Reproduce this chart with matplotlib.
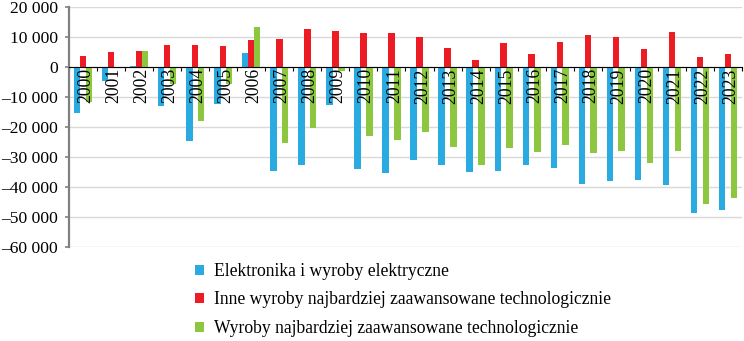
import numpy as np
import matplotlib
matplotlib.use("Agg")
import matplotlib.pyplot as plt
from matplotlib.patches import Patch
from matplotlib.ticker import FuncFormatter

# Saldo handlu wyrobami wysokiej techniki (mln)
years = [str(y) for y in range(2000, 2024)]
elektronika = [-15300, -4800, 300, -13000, -24800, -12300, 4700, -34600,
               -32800, -12800, -34000, -35300, -31200, -32800, -35000, -34700,
               -32600, -33900, -39000, -38100, -37800, -39300, -48900, -47600]
inne = [3700, 4800, 5300, 7300, 7100, 6800, 8800, 9300,
        12400, 11800, 11300, 11100, 9900, 6100, 2100, 8000,
        4300, 8100, 10700, 9900, 5900, 11600, 3200, 4100]
wyroby = [-11900, -400, 5300, -5900, -18100, -5800, 13200, -25300,
          -20400, -1300, -23000, -24300, -21600, -26700, -32900, -27000,
          -28400, -26100, -28700, -28100, -32100, -28000, -45900, -43700]

labels = ["Elektronika i wyroby elektryczne",
          "Inne wyroby najbardziej zaawansowane technologicznie",
          "Wyroby najbardziej zaawansowane technologicznie"]
colors = ["#29ABE2", "#ED1C24", "#8DC63F"]

plt.rcParams['font.family'] = ['Liberation Serif', 'DejaVu Serif']
plt.rcParams['font.size'] = 12.7

fig = plt.figure(figsize=(7.44, 3.41), dpi=100)
ax = fig.add_axes([69 / 744, 1 - 246.7 / 341, (742 - 69) / 744, 240 / 341])

x = np.arange(len(years))
w = 0.23
off = 0.21
for i, (vals, c) in enumerate(zip([elektronika, inne, wyroby], colors)):
    ax.bar(x + (i - 1) * off, vals, width=w, color=c, zorder=2)

ax.set_xlim(-0.5, len(years) - 0.5)
ax.set_ylim(-60000, 20000)
ax.set_yticks(np.arange(-60000, 20001, 10000))
ax.yaxis.set_major_formatter(FuncFormatter(
    lambda v, p: f"{int(v):,}".replace(",", " ").replace("-", "\u2013")))
ax.yaxis.grid(True, color="#d9d9d9", lw=1.0, zorder=0)
ax.set_axisbelow(True)

for s in ["top", "right"]:
    ax.spines[s].set_visible(False)
ax.spines["left"].set_color("#808080")
ax.spines["left"].set_linewidth(1.6)
ax.spines["bottom"].set_position(("data", 0))
ax.spines["bottom"].set_color("black")
ax.spines["bottom"].set_linewidth(0.8)
ax.spines["bottom"].set_zorder(3)

ax.tick_params(axis="y", direction="out", length=3, width=1.2,
               color="#808080", pad=5, labelsize=12.6)
ax.set_xticks(np.arange(-0.5, len(years), 1.0))
ax.set_xticklabels([])
ax.tick_params(axis="x", direction="out", length=3, width=0.8, color="black")

# rok nad słupkami, pod linią zera
for i, y in enumerate(years):
    ax.text(i + 0.1, -500, y, rotation=90, ha="center", va="top",
            fontsize=12.7, zorder=4)

handles = [Patch(facecolor=c, edgecolor="none") for c in colors]
fig.legend(handles, labels, loc="center left",
           bbox_to_anchor=(195 / 744, 1 - 300 / 341), frameon=False,
           borderpad=0, borderaxespad=0, handlelength=0.5, handleheight=0.5,
           handletextpad=0.6, labelspacing=0.66, fontsize=12.7)

fig.savefig("out.png", dpi=100)
